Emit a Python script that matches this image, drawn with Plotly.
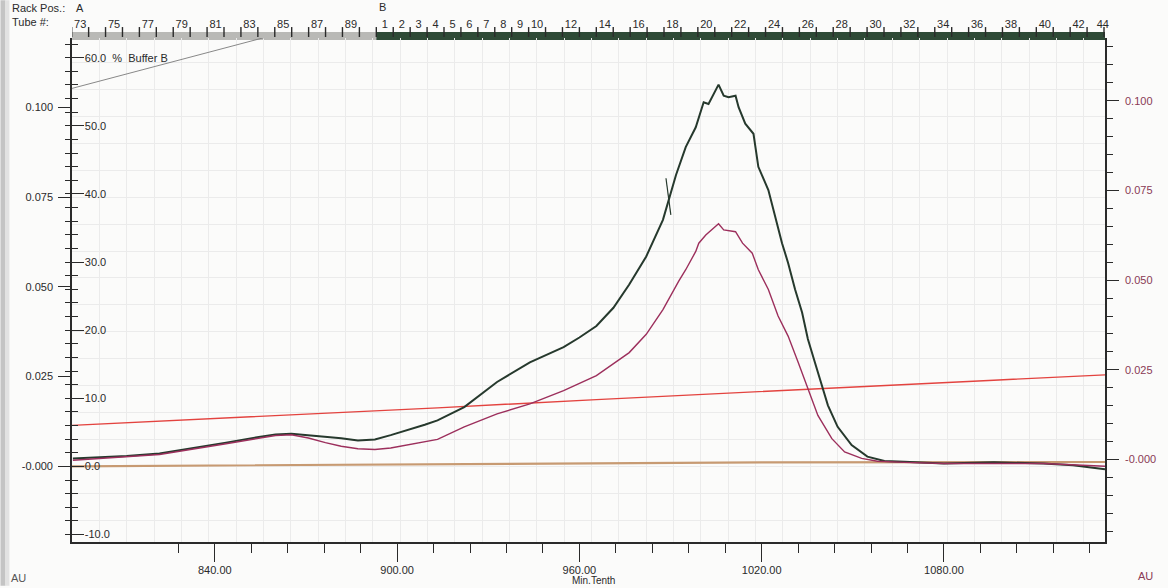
import plotly.graph_objects as go

# ---- data -----------------------------------------------------------------
# UV trace (left AU axis)
uv_time = [793.3, 799.9, 811.0, 821.8, 832.6, 843.7, 854.5, 860.0, 865.2, 870.8,
           876.4, 881.6, 887.1, 892.7, 897.9, 903.5, 909.1, 913.3, 922.1, 932.9,
           943.7, 954.8, 960.0, 965.6, 971.2, 976.4, 982.0, 987.5, 991.8, 995.0,
           998.3, 1000.9, 1002.5, 1005.8, 1007.5, 1009.1, 1011.4, 1012.4, 1014.6, 1017.3,
           1018.9, 1022.2, 1024.4, 1026.7, 1028.7, 1031.0, 1033.3, 1035.2, 1037.5, 1039.8,
           1041.8, 1045.0, 1049.6, 1054.8, 1060.4, 1066.9, 1080.0, 1096.4, 1112.7, 1122.5,
           1129.1, 1133.0]
uv_au = [0.0022, 0.0024, 0.0029, 0.0036, 0.0050, 0.0066, 0.0082, 0.0089, 0.0091, 0.0087,
         0.0082, 0.0078, 0.0072, 0.0075, 0.0087, 0.0101, 0.0116, 0.0128, 0.0165, 0.0235,
         0.0290, 0.0332, 0.0359, 0.0391, 0.0442, 0.0507, 0.0585, 0.0687, 0.0812, 0.0890,
         0.0945, 0.1015, 0.1010, 0.1064, 0.1033, 0.1029, 0.1033, 0.1001, 0.0955, 0.0927,
         0.0835, 0.0770, 0.0696, 0.0622, 0.0567, 0.0493, 0.0429, 0.0355, 0.0290, 0.0225,
         0.0170, 0.0110, 0.0059, 0.0027, 0.0015, 0.0013, 0.0008, 0.0011, 0.0008, 0.0003,
         -0.0003, -0.0008]

# second absorbance trace (right AU axis)
abs2_time = [793.3, 821.8, 843.7, 860.0, 865.2, 870.8, 876.4, 881.6, 887.1, 892.7,
             897.9, 903.5, 909.1, 913.3, 922.1, 932.9, 943.7, 954.8, 965.6, 976.4,
             982.0, 987.5, 992.7, 995.0, 998.3, 999.3, 1001.6, 1005.8, 1007.5, 1011.4,
             1013.7, 1016.9, 1018.9, 1022.2, 1025.4, 1028.7, 1032.0, 1035.2, 1038.5, 1043.1,
             1047.3, 1052.9, 1058.1, 1066.9, 1080.0, 1112.7, 1129.1, 1133.0]
abs2_au = [-0.0002, 0.0014, 0.0044, 0.0067, 0.0069, 0.0060, 0.0047, 0.0037, 0.0030, 0.0028,
           0.0032, 0.0040, 0.0049, 0.0056, 0.0091, 0.0127, 0.0155, 0.0192, 0.0234, 0.0298,
           0.0349, 0.0418, 0.0497, 0.0529, 0.0580, 0.0603, 0.0626, 0.0657, 0.0640, 0.0635,
           0.0603, 0.0575, 0.0529, 0.0474, 0.0400, 0.0344, 0.0271, 0.0197, 0.0123, 0.0058,
           0.0021, 0.0003, -0.0005, -0.0008, -0.0011, -0.0011, -0.0017, -0.0019]

# conductivity-style red trace (left AU axis)
cond_time = [793.0, 867.5, 913.3, 965.6, 998.3, 1031.0, 1063.7, 1096.4, 1133.0]
cond_au = [0.0114, 0.0144, 0.0163, 0.0186, 0.0199, 0.0213, 0.0227, 0.0240, 0.0255]

# baseline trace (left AU axis)
base_time = [793.0, 1020.0, 1133.0]
base_au = [0.0, 0.0011, 0.0012]

# % Buffer B gradient
grad_time = [793.0, 860.0]
grad_pct = [55.5, 63.4]

# fraction event mark
event_time = [988.5, 990.1]
event_au = [0.0803, 0.0701]

# fraction collector: rack A tubes 73-90, rack B tubes 1-44
tube_width = 5.57
rack_a_start = 792.9
rack_a_tubes = list(range(73, 91))
rack_b_tubes = list(range(1, 45))
rack_a_labels = [t for t in rack_a_tubes if t % 2 == 1]
rack_b_labels = [t for t in rack_b_tubes if t <= 10 or t % 2 == 0]

au_ticks = [0.0, 0.025, 0.050, 0.075, 0.100]
au_ticktext = ["-0.000", "0.025", "0.050", "0.075", "0.100"]
pct_ticks = [-10, 0, 10, 20, 30, 40, 50, 60]
pct_ticktext = ["-10.0", "0.0", "10.0", "20.0", "30.0", "40.0", "50.0", "60.0  %  Buffer B"]

# ---- geometry -------------------------------------------------------------
W, H = 1168, 588
ML, MR, MT, MB = 72, 56, 38, 44
PW, PH = W - ML - MR, H - MT - MB
X_RANGE = [793.0, 1133.0]
AU_RANGE = [-0.0211, 0.1194]
AU_R_RANGE = [-0.0230, 0.1175]
PCT_RANGE = [-11.1, 62.9]


def px_x(p):
    return (p - ML) / PW


def px_y(p):
    return (H - MB - p) / PH


rack_b_start = rack_a_start + len(rack_a_tubes) * tube_width
boundaries = [rack_a_start + i * tube_width for i in range(len(rack_a_tubes) + 1)]
boundaries += [rack_b_start + i * tube_width for i in range(1, len(rack_b_tubes))]
boundaries = [b for b in boundaries if X_RANGE[0] - 0.5 <= b <= X_RANGE[1] + 0.5]
label_pos, label_txt = [], []
for t in rack_a_labels:
    i = rack_a_tubes.index(t)
    label_pos.append(rack_a_start + (i + 0.5) * tube_width)
    label_txt.append(str(t))
for t in rack_b_labels:
    i = rack_b_tubes.index(t)
    c = rack_b_start + (i + 0.5) * tube_width
    if c > X_RANGE[1]:
        c = rack_b_start + i * tube_width - 0.4
    label_pos.append(c)
    label_txt.append(str(t))

FONT = "Liberation Sans Narrow, Arial Narrow, Liberation Sans, Arial, sans-serif"
INK = "#2a2a2a"
MAROON = "#8a3a55"

fig = go.Figure()

# placeholder traces so the auxiliary axes (tube labels, paper grid, crossing ticks) get drawn
for xa, ya in [("x3", "y"), ("x4", "y"), ("x", "y3"), ("x", "y5")]:
    fig.add_trace(go.Scatter(x=[None], y=[None], xaxis=xa, yaxis=ya, mode="lines",
                             hoverinfo="skip", showlegend=False))

fig.add_trace(go.Scatter(x=grad_time, y=grad_pct, mode="lines", yaxis="y2",
                         line=dict(color="#7a7a7a", width=0.9), hoverinfo="skip"))
fig.add_trace(go.Scatter(x=base_time, y=base_au, mode="lines", yaxis="y",
                         line=dict(color="#c79a72", width=2.2), hoverinfo="skip"))
fig.add_trace(go.Scatter(x=cond_time, y=cond_au, mode="lines", yaxis="y",
                         line=dict(color="#e3433f", width=1.4), hoverinfo="skip"))
fig.add_trace(go.Scatter(x=abs2_time, y=abs2_au, mode="lines", yaxis="y4",
                         line=dict(color="#9c2f5c", width=1.4), hoverinfo="skip"))
fig.add_trace(go.Scatter(x=uv_time, y=uv_au, mode="lines", yaxis="y",
                         line=dict(color="#26392d", width=2.0), hoverinfo="skip"))
fig.add_trace(go.Scatter(x=event_time, y=event_au, mode="lines", yaxis="y",
                         line=dict(color="#26392d", width=1.2), hoverinfo="skip"))

tickfont = dict(family=FONT, size=11, color=INK)

fig.update_layout(
    width=W, height=H,
    margin=dict(l=ML, r=MR, t=MT, b=MB, pad=0),
    paper_bgcolor="#fbfbfa",
    plot_bgcolor="rgba(0,0,0,0)",
    showlegend=False,
    xaxis=dict(range=X_RANGE, tick0=840, dtick=60, tickformat=".2f",
               ticks="outside", ticklen=18, tickwidth=1.3, tickcolor=INK,
               minor=dict(tick0=840, dtick=12, ticks="outside", ticklen=9,
                          tickwidth=1.3, tickcolor=INK),
               showline=True, linecolor=INK, linewidth=1.6,
               showgrid=False, zeroline=False, tickfont=tickfont, ticklabelstandoff=-1),
    xaxis3=dict(range=X_RANGE, overlaying="x", side="top", anchor="y",
                tickmode="array", tickvals=label_pos, ticktext=label_txt,
                ticks="outside", ticklen=5, tickcolor="rgba(0,0,0,0)",
                showline=False, showgrid=False, zeroline=False, tickfont=tickfont,
                ticklabelstandoff=0),
    xaxis4=dict(range=X_RANGE, overlaying="x", anchor="y", dtick=9, tick0=793,
                showgrid=True, gridcolor="#ebebeb", gridwidth=1,
                showticklabels=False, ticks="", showline=False, zeroline=False),
    yaxis=dict(range=AU_RANGE, tickmode="array", tickvals=au_ticks, ticktext=au_ticktext,
               ticks="outside", ticklen=12, tickwidth=1.3, tickcolor=INK,
               showline=True, linecolor=INK, linewidth=1.6,
               showgrid=False, zeroline=False, tickfont=tickfont, ticklabelstandoff=3),
    yaxis2=dict(range=PCT_RANGE, overlaying="y", side="left", anchor="x",
                tickmode="array", tickvals=pct_ticks, ticktext=pct_ticktext,
                ticks="inside", ticklen=12, tickwidth=1.3, tickcolor=INK,
                ticklabelposition="inside",
                minor=dict(dtick=2, ticks="inside", ticklen=6, tickwidth=1.3, tickcolor=INK),
                showline=False, showgrid=False, zeroline=False, tickfont=tickfont),
    yaxis3=dict(range=PCT_RANGE, overlaying="y", side="left", anchor="x",
                tick0=0, dtick=2, ticks="outside", ticklen=6, tickwidth=1.3, tickcolor=INK,
                showticklabels=False, showline=False, showgrid=False, zeroline=False),
    yaxis4=dict(range=AU_R_RANGE, overlaying="y", side="right", anchor="x",
                tickmode="array", tickvals=au_ticks, ticktext=au_ticktext,
                ticks="outside", ticklen=12, tickwidth=1.3, tickcolor=INK,
                minor=dict(tickmode="linear", tick0=0, dtick=0.005, ticks="outside",
                           ticklen=6, tickwidth=1.3, tickcolor=INK),
                showline=True, linecolor=INK, linewidth=1.6,
                showgrid=False, zeroline=False,
                tickfont=dict(family=FONT, size=11, color=MAROON), ticklabelstandoff=4),
    yaxis5=dict(range=AU_RANGE, overlaying="y", side="left", anchor="x",
                tick0=0, dtick=0.0075, showgrid=True, gridcolor="#ebebeb", gridwidth=1,
                showticklabels=False, ticks="", showline=False, zeroline=False),
)

# fraction collector band along the top edge
band_y0, band_y1 = px_y(40), px_y(32)
fig.add_shape(type="rect", xref="x", yref="paper", x0=X_RANGE[0], x1=rack_b_start,
              y0=band_y0, y1=band_y1, fillcolor="#b9b9b6", line_width=0, layer="below")
fig.add_shape(type="rect", xref="x", yref="paper", x0=rack_b_start, x1=X_RANGE[1],
              y0=band_y0, y1=band_y1, fillcolor="#2e4a36", line_width=0, layer="below")

# tube boundary ticks crossing the band
for b in boundaries:
    fig.add_shape(type="line", xref="x", yref="paper", x0=b, x1=b,
                  y0=px_y(37), y1=px_y(27), line=dict(color=INK, width=1.4), layer="above")

# shaded scan edge on the far left
fig.add_shape(type="rect", xref="paper", yref="paper", x0=px_x(0), x1=px_x(5),
              y0=px_y(H), y1=px_y(0), fillcolor="#c4c4c4", line_width=0, layer="below")
fig.add_shape(type="rect", xref="paper", yref="paper", x0=px_x(5), x1=px_x(9),
              y0=px_y(H), y1=px_y(0), fillcolor="#e2e2e2", line_width=0, layer="below")


def note(text, px, py, color=INK, anchor="left", size=11):
    fig.add_annotation(text=text, xref="paper", yref="paper", x=px_x(px), y=px_y(py),
                       xanchor=anchor, yanchor="middle", showarrow=False,
                       font=dict(family=FONT, size=size, color=color))


note("Rack Pos.:", 10, 8)
note("A", 74, 8)
note("Tube #:", 10, 22)
note("B", 379, 7)
note("Min.Tenth", 597, 583, anchor="center", size=10)
note("AU", 9, 580, color="#555555")
note("AU", 1143, 578, color=MAROON)

fig.write_html("out.html")
